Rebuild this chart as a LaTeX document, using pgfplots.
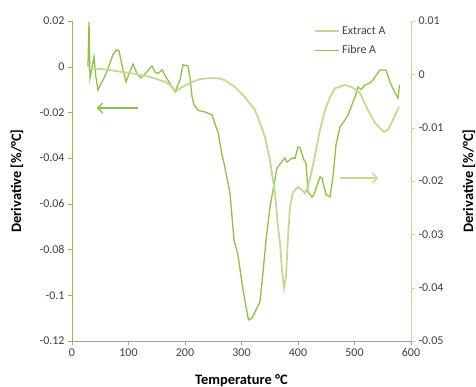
\documentclass[border=0pt]{standalone}
\usepackage{fontspec}
\setmainfont{Carlito}
\usepackage{pgfplots}
\pgfplotsset{compat=1.18}
\usetikzlibrary{arrows.meta}
\definecolor{fibre}{RGB}{146,190,78}
\definecolor{extract}{RGB}{196,217,150}
\definecolor{lblgray}{RGB}{64,64,64}
\definecolor{axgray}{RGB}{160,160,160}
\begin{document}
\begin{tikzpicture}
\path[use as bounding box] (-72bp,-46bp) rectangle (404bp,341bp);
\begin{axis}[
 at={(0,0)}, anchor=south west, scale only axis, width=339bp, height=320bp,
 xmin=0,xmax=600, ymin=-0.12,ymax=0.02,
 axis x line*=bottom, axis y line*=left,
 x axis line style={axgray,-}, y axis line style={fibre,-},
 xtick={0,100,...,600}, xticklabels={0,100,200,300,400,500,600},
 ytick={-0.12,-0.1,-0.08,-0.06,-0.04,-0.02,0,0.02},
 yticklabels={-0.12,-0.1,-0.08,-0.06,-0.04,-0.02,0,0.02},
 scaled y ticks=false, scaled x ticks=false,
 tick align=outside, major tick length=4bp,
 x tick style={axgray}, y tick style={fibre},
 ticklabel style={font=\fontsize{12}{12}\selectfont, text=lblgray},
 xlabel={Temperature °C}, ylabel={Derivative [\%/°C]},
 label style={font=\bfseries\fontsize{14.5}{14.5}\selectfont},
 xlabel style={at={(axis description cs:0.5,-0.125)}, anchor=center},
 ylabel style={at={(axis description cs:-0.1622,0.5)}, anchor=center},
 clip=false,
]
\addplot[fibre, line width=1.3bp] coordinates {
(28.3,0.000)(30.1,0.0196)(31.9,-0.005)(35,-0.001)(38.9,0.0043)(42,-0.004)(46.0,-0.0102)(50,-0.008)(56.6,-0.005)
(62,-0.002)(67.3,0.0016)(72,0.005)(77.9,0.0073)(83.2,0.0070)(89,0.000)(95.6,-0.0067)(101,-0.003)(108,0.0012)
(115,-0.003)(122,-0.005)(130,-0.003)(141.6,0.0003)(146.9,-0.0023)(152.2,-0.003)(159.3,-0.0014)(166.4,-0.0045)
(175,-0.008)(182.3,-0.011)(191.2,-0.0058)(196.5,0.0008)(205.3,0.0003)(208.8,-0.0045)(212.4,-0.013)(215.9,-0.0167)
(223,-0.019)(235.4,-0.0198)(247.8,-0.0211)(254.9,-0.0264)(258.4,-0.0285)(265.5,-0.0386)(269,-0.0421)
(279.6,-0.0552)(286.7,-0.0758)(293.8,-0.0824)(300.9,-0.0946)(308,-0.1051)(312.4,-0.1108)(318.6,-0.1099)
(327.4,-0.1055)(332.7,-0.1029)(338,-0.0902)(343.4,-0.0758)(350.4,-0.0614)(357.5,-0.0517)(362.8,-0.0443)
(368.1,-0.0426)(377,-0.040)(380.5,-0.0417)(389.4,-0.040)(394.7,-0.040)(400,-0.0351)(403.5,-0.0355)
(410.6,-0.0408)(414.2,-0.0421)(417.7,-0.0548)(424.8,-0.057)(428.3,-0.056)(438.9,-0.0482)(442.5,-0.0487)
(449.6,-0.0561)(456.6,-0.057)(461.9,-0.0482)(467.3,-0.0342)(474.3,-0.0264)(483.2,-0.0233)(488.5,-0.0211)
(500.9,-0.0132)(506.2,-0.0089)(511.5,-0.010)(518.6,-0.008)(527.4,-0.0071)(532.7,-0.0058)(545.1,-0.0014)
(555.8,-0.0014)(562.8,-0.0067)(571.7,-0.0115)(577,-0.0137)(579.6,-0.008)
};
\draw[fibre, line width=1.3bp, -{Straight Barb[length=5bp,width=10bp]}] (axis cs:117,-0.0181) -- (axis cs:44,-0.0181);
\draw[extract, line width=1.3bp, -{Straight Barb[length=5bp,width=10bp]}] (axis cs:474,-0.0487) -- (axis cs:542,-0.0487);
\end{axis}
\begin{axis}[
 at={(0,0)}, anchor=south west, scale only axis, width=339bp, height=320bp,
 xmin=0,xmax=600, ymin=-0.05,ymax=0.01,
 axis x line=none, axis y line*=right,
 y axis line style={extract,-},
 ytick={-0.05,-0.04,-0.03,-0.02,-0.01,0,0.01},
 yticklabels={-0.05,-0.04,-0.03,-0.02,-0.01,0,0.01},
 scaled y ticks=false,
 tick align=outside, major tick length=4bp, y tick style={extract},
 ticklabel style={font=\fontsize{12}{12}\selectfont, text=lblgray},
 ylabel={Derivative [\%/°C]},
 label style={font=\bfseries\fontsize{14.5}{14.5}\selectfont},
 ylabel style={at={(axis description cs:1.171,0.5)}, anchor=center},
 legend style={at={(0.714,0.99)}, anchor=north west, draw=none, fill=none,
   font=\fontsize{12}{12}\selectfont, text=lblgray, row sep=6bp, inner sep=0pt},
 legend cell align=left,
 legend image code/.code={\draw[#1] (0bp,0bp) -- (24bp,0bp);},
]
\addplot[extract, line width=1.8bp] coordinates {
(28.3,0.0012)(49.6,0.0010)(67.3,0.0008)(85,0.0005)(102.7,0.00025)(120.4,-0.0001)(138,-0.0005)(155.8,-0.0011)
(164.6,-0.0014)(173.5,-0.0020)(182.3,-0.0033)(191.2,-0.0026)(208.8,-0.0016)(226.5,-0.0009)(244.2,-0.0007)
(261.9,-0.0008)(270.8,-0.0011)(288.5,-0.0024)(306.2,-0.0043)(323.9,-0.0067)(336.3,-0.0101)(341.6,-0.0118)
(350.4,-0.0161)(359.3,-0.0223)(364.6,-0.0286)(368.1,-0.0315)(371.7,-0.0367)(375.2,-0.0401)(378.8,-0.038)
(382.3,-0.0305)(385.8,-0.0249)(391.2,-0.0221)(400,-0.0211)(407.1,-0.0217)(412.4,-0.0223)(417.7,-0.0211)
(424.8,-0.0179)(431.9,-0.0142)(438.9,-0.0104)(447.8,-0.0067)(456.6,-0.0043)(465.5,-0.0026)(483.2,-0.002)
(495.6,-0.0024)(509.7,-0.0035)(523.9,-0.0067)(536.3,-0.0091)(545.1,-0.0101)(552.2,-0.0108)(559.3,-0.0104)
(566.4,-0.0089)(578.8,-0.0061)
};
\addlegendentry{Extract A}
\addlegendimage{fibre, line width=1.3bp}
\addlegendentry{Fibre A}
\end{axis}
\end{tikzpicture}
\end{document}
